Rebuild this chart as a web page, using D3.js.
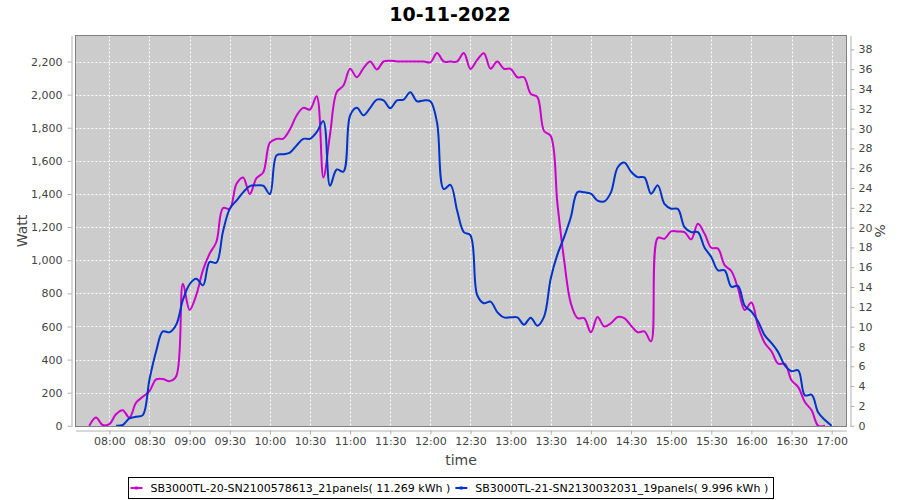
<!DOCTYPE html>
<html>
<head>
<meta charset="utf-8">
<script src="https://cdn.jsdelivr.net/npm/d3@7"></script>
<style>
body { margin: 0; background: #fff; }
svg { font-family: "DejaVu Sans", sans-serif; }
</style>
</head>
<body>
<div id="chart"></div>
<script>
// readings every 5 minutes, 10-11-2022
var times = [
  "07:45","07:50","07:55",
  "08:00","08:05","08:10","08:15","08:20","08:25","08:30","08:35","08:40","08:45","08:50","08:55",
  "09:00","09:05","09:10","09:15","09:20","09:25","09:30","09:35","09:40","09:45","09:50","09:55",
  "10:00","10:05","10:10","10:15","10:20","10:25","10:30","10:35","10:40","10:45","10:50","10:55",
  "11:00","11:05","11:10","11:15","11:20","11:25","11:30","11:35","11:40","11:45","11:50","11:55",
  "12:00","12:05","12:10","12:15","12:20","12:25","12:30","12:35","12:40","12:45","12:50","12:55",
  "13:00","13:05","13:10","13:15","13:20","13:25","13:30","13:35","13:40","13:45","13:50","13:55",
  "14:00","14:05","14:10","14:15","14:20","14:25","14:30","14:35","14:40","14:45","14:50","14:55",
  "15:00","15:05","15:10","15:15","15:20","15:25","15:30","15:35","15:40","15:45","15:50","15:55",
  "16:00","16:05","16:10","16:15","16:20","16:25","16:30","16:35","16:40","16:45","16:50","16:55",
  "17:00"
];

var sb20 = [
  0, 50, 5,
  10, 70, 94, 50, 140, 175, 210, 280, 283, 270, 300, 858,
  700, 790, 940, 1040, 1110, 1315, 1311, 1460, 1500, 1400, 1496, 1530,
  1710, 1733, 1735, 1790, 1874, 1920, 1910, 1990, 1500, 1760, 2015, 2055,
  2156, 2105, 2160, 2200, 2152, 2200, 2205, 2200, 2200, 2200, 2200, 2200,
  2195, 2252, 2200, 2200, 2200, 2252, 2155, 2210, 2250, 2156, 2200, 2156,
  2156, 2105, 2105, 2005, 1985, 1780, 1750, 1340, 1000, 740, 650, 650,
  565, 657, 600, 620, 657, 650, 605, 565, 570, 510, 1135, 1130,
  1174, 1174, 1170, 1126, 1220, 1160, 1075, 1070, 970, 935, 830, 700,
  745, 600, 500, 450, 375, 375, 275, 234, 144, 94, 0, 0,
  null
];

var sb21 = [
  null, null, null,
  null, 0, 5, 45, 55, 65, 280, 450, 570, 565, 610, 760,
  855, 888, 848, 990, 985, 1175, 1310, 1360, 1410, 1448, 1452, 1450,
  1400, 1633, 1640, 1650, 1693, 1733, 1733, 1773, 1840, 1450, 1548, 1535,
  1874, 1920, 1875, 1920, 1970, 1965, 1918, 1965, 1970, 2015, 1960, 1965,
  1960, 1830, 1430, 1455, 1300, 1170, 1150, 790, 740, 750, 687, 655,
  655, 655, 611, 653, 605, 660, 890, 1035, 1140, 1260, 1411, 1410,
  1402, 1360, 1355, 1410, 1560, 1590, 1535, 1502, 1500, 1401, 1452, 1340,
  1311, 1310, 1200, 1170, 1170, 1075, 1020, 939, 939, 840, 845, 725,
  690, 630, 546, 500, 445, 365, 330, 335, 184, 188, 80, 35,
  0
];

var seriesNames = [
  "SB3000TL-20-SN2100578613_21panels( 11.269 kWh )",
  "SB3000TL-21-SN2130032031_19panels( 9.996 kWh )"
];
var seriesColors = ["#cc00cc", "#0033cc"];

var wattTicks = [0, 200, 400, 600, 800, 1000, 1200, 1400, 1600, 1800, 2000, 2200];
var pctTicks = [0, 2, 4, 6, 8, 10, 12, 14, 16, 18, 20, 22, 24, 26, 28, 30, 32, 34, 36, 38];
var timeTicks = ["08:00","08:30","09:00","09:30","10:00","10:30","11:00","11:30","12:00",
                 "12:30","13:00","13:30","14:00","14:30","15:00","15:30","16:00","16:30","17:00"];

var width = 900, height = 500;
var plot = {left: 75.5, top: 35.5, right: 846.5, bottom: 426.5};

function parseT(s) {
  var p = s.split(":");
  return new Date(2022, 10, 10, +p[0], +p[1]);
}

var svg = d3.select("#chart").append("svg")
  .attr("width", width)
  .attr("height", height);

var x = d3.scaleTime()
  .domain([new Date(2022, 10, 10, 7, 34, 42), new Date(2022, 10, 10, 17, 11, 6)])
  .range([plot.left, plot.right]);

var y = d3.scaleLinear()
  .domain([-4, 2357])
  .range([plot.bottom, plot.top]);

var yPct = d3.scaleLinear()
  .domain([-0.08, 39.4])
  .range([plot.bottom, plot.top]);

// title
svg.append("text")
  .attr("x", width / 2)
  .attr("y", 21)
  .attr("text-anchor", "middle")
  .style("font-size", "19px")
  .style("font-weight", "bold")
  .attr("fill", "#000")
  .text("10-11-2022");

// plot background
svg.append("rect")
  .attr("x", plot.left)
  .attr("y", plot.top)
  .attr("width", plot.right - plot.left)
  .attr("height", plot.bottom - plot.top)
  .attr("fill", "#cccccc");

// grid
var grid = svg.append("g");
grid.selectAll(".vg")
  .data(timeTicks)
  .enter().append("line")
  .attr("x1", function(d) { return Math.round(x(parseT(d))) + 0.5; })
  .attr("x2", function(d) { return Math.round(x(parseT(d))) + 0.5; })
  .attr("y1", plot.top)
  .attr("y2", plot.bottom);
grid.selectAll(".hg")
  .data(wattTicks)
  .enter().append("line")
  .attr("x1", plot.left)
  .attr("x2", plot.right)
  .attr("y1", function(d) { return Math.round(y(d)) + 0.5; })
  .attr("y2", function(d) { return Math.round(y(d)) + 0.5; });
grid.selectAll("line")
  .attr("stroke", "#ffffff")
  .attr("stroke-width", 1)
  .attr("stroke-dasharray", "2,2");

// series
var clip = svg.append("clipPath").attr("id", "plotclip")
  .append("rect")
  .attr("x", plot.left)
  .attr("y", plot.top)
  .attr("width", plot.right - plot.left)
  .attr("height", plot.bottom - plot.top);

var line = d3.line()
  .defined(function(d) { return d.v !== null; })
  .x(function(d) { return x(d.t); })
  .y(function(d) { return y(d.v); })
  .curve(d3.curveCatmullRom.alpha(0.5));

[sb20, sb21].forEach(function(vals, i) {
  var pts = times.map(function(t, k) { return {t: parseT(t), v: vals[k]}; });
  svg.append("path")
    .datum(pts)
    .attr("clip-path", "url(#plotclip)")
    .attr("fill", "none")
    .attr("stroke", seriesColors[i])
    .attr("stroke-width", 2)
    .attr("stroke-linejoin", "round")
    .attr("d", line);
});

// plot border
svg.append("rect")
  .attr("x", plot.left)
  .attr("y", plot.top)
  .attr("width", plot.right - plot.left)
  .attr("height", plot.bottom - plot.top)
  .attr("fill", "none")
  .attr("stroke", "#808080");

// axes
var xAxis = d3.axisBottom(x)
  .tickValues(timeTicks.map(parseT))
  .tickFormat(d3.timeFormat("%H:%M"))
  .tickSize(4).tickSizeOuter(0).tickPadding(3);
var yAxis = d3.axisLeft(y)
  .tickValues(wattTicks)
  .tickFormat(d3.format(","))
  .tickSize(4).tickSizeOuter(0).tickPadding(5);
var pAxis = d3.axisRight(yPct)
  .tickValues(pctTicks)
  .tickSize(4).tickSizeOuter(0).tickPadding(4);

var gx = svg.append("g").attr("transform", "translate(0,430.5)").call(xAxis);
var gy = svg.append("g").attr("transform", "translate(71.5,0)").call(yAxis);
var gp = svg.append("g").attr("transform", "translate(850.5,0)").call(pAxis);

[gx, gy, gp].forEach(function(g) {
  g.selectAll("path, line").attr("stroke", "#b0b0b0");
  g.selectAll("text")
    .attr("fill", "#444444")
    .style("font-size", "11px")
    .style("font-family", "DejaVu Sans, sans-serif");
});

// axis labels
svg.append("text")
  .attr("transform", "translate(27," + ((plot.top + plot.bottom) / 2) + ") rotate(-90)")
  .attr("text-anchor", "middle")
  .attr("fill", "#444444")
  .style("font-size", "14px")
  .text("Watt");

svg.append("text")
  .attr("transform", "translate(875," + ((plot.top + plot.bottom) / 2) + ") rotate(90)")
  .attr("text-anchor", "middle")
  .attr("fill", "#444444")
  .style("font-size", "14px")
  .text("%");

svg.append("text")
  .attr("x", (plot.left + plot.right) / 2)
  .attr("y", 465)
  .attr("text-anchor", "middle")
  .attr("fill", "#444444")
  .style("font-size", "14px")
  .text("time");

// legend
var legend = svg.append("g");
var items = legend.selectAll(".item")
  .data(seriesNames)
  .enter().append("g")
  .attr("class", "item");

items.append("text")
  .attr("y", 492)
  .attr("fill", "#000")
  .style("font-size", "11px")
  .text(function(d) { return d; });

var lineW = 12, gapA = 8, gapB = 5, pad = 2;
var widths = [];
items.selectAll("text").each(function() { widths.push(this.getComputedTextLength()); });
var total = pad;
widths.forEach(function(w, i) { total += lineW + gapA + w + (i < widths.length - 1 ? gapB : 0); });
total += pad + 3;
var lx = Math.round(width / 2 - total / 2) + 0.5;

legend.insert("rect", ":first-child")
  .attr("x", lx)
  .attr("y", 477.5)
  .attr("width", Math.round(total))
  .attr("height", 21)
  .attr("fill", "#fff")
  .attr("stroke", "#000");

var cx = lx + pad;
items.each(function(d, i) {
  var g = d3.select(this);
  g.insert("line", "text")
    .attr("x1", cx).attr("x2", cx + lineW)
    .attr("y1", 488).attr("y2", 488)
    .attr("stroke", seriesColors[i])
    .attr("stroke-width", 2);
  g.insert("rect", "text")
    .attr("x", cx + lineW / 2 - 1.5).attr("y", 486.5)
    .attr("width", 3).attr("height", 3)
    .attr("fill", seriesColors[i]);
  g.select("text").attr("x", cx + lineW + gapA);
  cx += lineW + gapA + widths[i] + gapB;
});
</script>
</body>
</html>
